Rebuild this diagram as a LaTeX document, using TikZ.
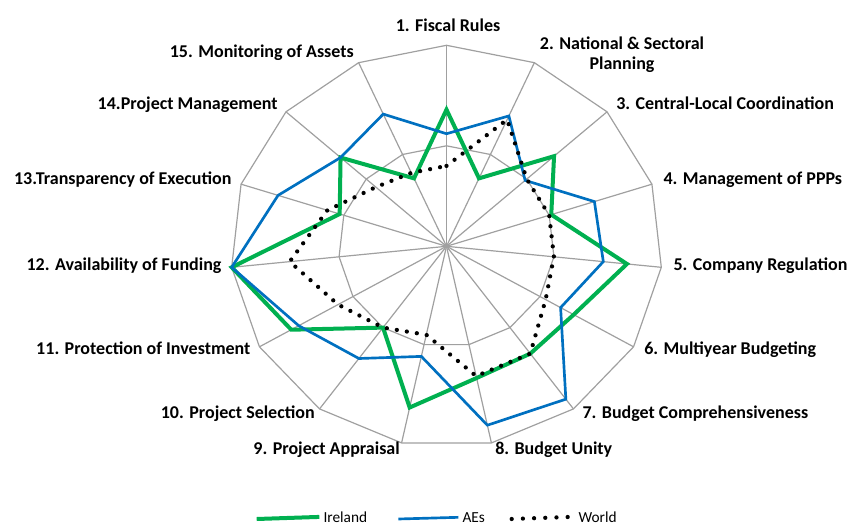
\documentclass[tikz,border=0pt]{standalone}
\usepackage{fontspec}
\setmainfont{Carlito}
\usepackage{tikz}

\definecolor{irlgreen}{RGB}{0,176,80}
\definecolor{aeblue}{RGB}{0,112,192}
\definecolor{webgray}{RGB}{160,160,160}

\begin{document}
\begin{tikzpicture}[x=0.75pt, y=-0.75pt,
    spoke/.style={webgray, line width=0.9pt},
    ireland/.style={irlgreen, line width=3pt},
    aes/.style={aeblue, line width=2pt},
    world/.style={black, line width=3.2pt, dash pattern=on 0pt off 7.6pt, line cap=round},
    lab/.style={font=\fontsize{13.5}{15}\selectfont\bfseries, inner sep=0pt},
    leg/.style={font=\fontsize{11.5}{13}\selectfont, inner sep=0pt, anchor=mid west}]
    \useasboundingbox (0,0) rectangle (847,525);

    \begin{scope}[shift={(446.5,246.3)}, x=162pt, y=150.75pt]
        % web
        \foreach \k in {1,...,15}
            \draw[spoke] (0,0) -- ({114-24*\k}:1);
        \foreach \r in {0.5,1}
            \draw[spoke] (90:\r) \foreach \k in {2,...,15}{ -- ({114-24*\k}:\r)} -- cycle;

        % series
        \foreach \v [count=\k] in {0.68,0.37,0.67,0.51,0.84,0.68,0.66,0.67,0.82,0.50,0.83,1.00,0.52,0.66,0.37}
            \coordinate (ire\k) at ({114-24*\k}:\v);
        \foreach \v [count=\k] in {0.56,0.71,0.49,0.72,0.73,0.61,0.94,0.91,0.56,0.69,0.79,1.00,0.82,0.66,0.72}
            \coordinate (aes\k) at ({114-24*\k}:\v);
        \foreach \v [count=\k] in {0.40,0.69,0.50,0.50,0.50,0.53,0.66,0.66,0.45,0.50,0.58,0.73,0.58,0.44,0.40}
            \coordinate (wld\k) at ({114-24*\k}:\v);

        \draw[ireland] (ire1) \foreach \k in {2,...,15}{ -- (ire\k)} -- cycle;
        \draw[aes] (aes1) \foreach \k in {2,...,15}{ -- (aes\k)} -- cycle;
        \draw[world] (wld1) \foreach \k in {2,...,15}{ -- (wld\k)} -- cycle;
    \end{scope}

    % axis labels
    \node[lab] (fiscal) at (448,25) {1. Fiscal Rules};
    \node[lab, align=center] (planning) at (622,54.3) {2. National \& Sectoral\\Planning};
    \node[lab, anchor=mid west] (coordination) at (616,106) {3. Central-Local Coordination};
    \node[lab, anchor=mid west] (ppps) at (663.3,181) {4. Management of PPPs};
    \node[lab, anchor=mid west] (company) at (673.3,267.7) {5. Company Regulation};
    \node[lab, anchor=mid west] (multiyear) at (644,351) {6. Multiyear Budgeting};
    \node[lab, anchor=mid west] (compreh) at (582.3,415.7) {7. Budget Comprehensiveness};
    \node[lab, anchor=mid west] (unity) at (495,451.7) {8. Budget Unity};
    \node[lab, anchor=mid east] (appraisal) at (400,451.7) {9. Project Appraisal};
    \node[lab, anchor=mid east] (selection) at (315,415.7) {10. Project Selection};
    \node[lab, anchor=mid east] (protection) at (250.7,351) {11. Protection of Investment};
    \node[lab, anchor=mid east] (funding) at (221.7,267.7) {12. Availability of Funding};
    \node[lab, anchor=mid east] (transparency) at (231.7,181) {13.Transparency of Execution};
    \node[lab, anchor=mid east] (management) at (278,106) {14.Project Management};
    \node[lab, anchor=mid east] (monitoring) at (354,54.3) {15. Monitoring of Assets};

    % legend
    \node[leg] (irlkey) at (323.3,519) {Ireland};
    \node[leg] (aeskey) at (462.3,519) {AEs};
    \node[leg] (wldkey) at (578.3,519) {World};
    \coordinate (irlstart) at (256.7,519);
    \coordinate (aesstart) at (398.3,519);
    \coordinate (wldstart) at (511.7,519);
    \draw[ireland] (irlstart) -- ([xshift=-3pt]irlkey.west);
    \draw[aes] (aesstart) -- ([xshift=-3pt]aeskey.west);
    \draw[world, dash pattern=on 0pt off 8.4pt] (wldstart) -- ([xshift=-6pt]wldkey.west);
\end{tikzpicture}
\end{document}
